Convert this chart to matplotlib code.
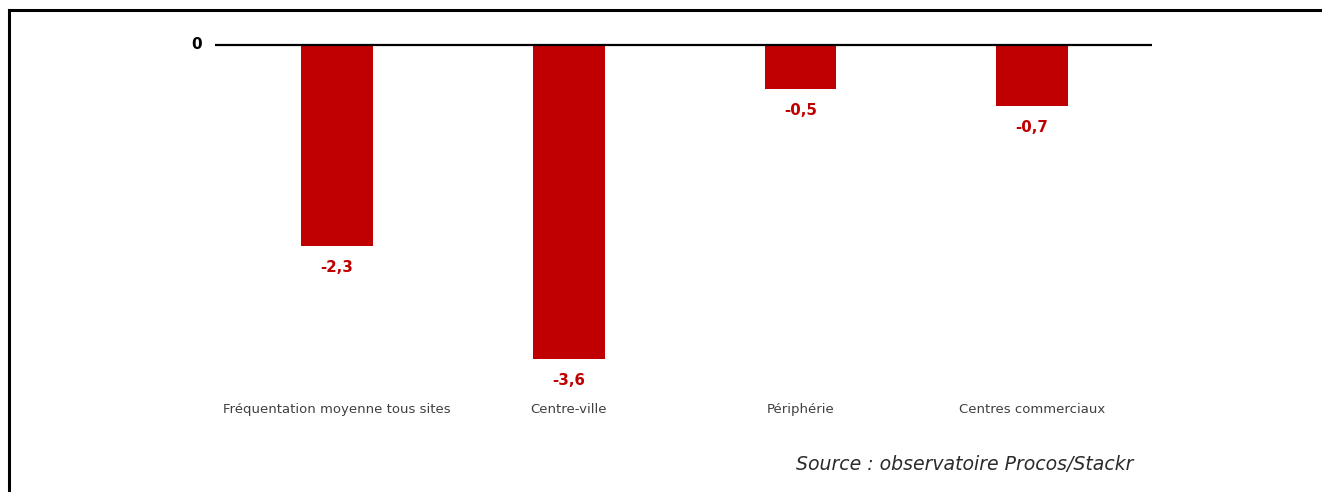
import matplotlib.pyplot as plt
from matplotlib.lines import Line2D

categories = ["Fréquentation moyenne tous sites", "Centre-ville", "Périphérie", "Centres commerciaux"]
values = [-2.3, -3.6, -0.5, -0.7]
value_labels = ["-2,3", "-3,6", "-0,5", "-0,7"]
source = "Source : observatoire Procos/Stackr"

RED = "#C00000"

fig = plt.figure(figsize=(13.22, 4.92), dpi=100)
ax = fig.add_axes([0, 0, 1, 1])
ax.set_xlim(-1.4545, 4.251)
ax.set_ylim(-5.126, 0.516)
ax.axis("off")

x = list(range(len(categories)))
bars = ax.bar(x, values, width=0.31, color=RED, zorder=2)

# zero baseline and its label
ax.hlines(0, -0.527, 3.517, color="black", lw=1.6, zorder=3)
ax.text(-0.605, 0, "0", ha="center", va="center", fontsize=11,
        fontweight="bold", family="DejaVu Sans")

for xi, v, lab in zip(x, values, value_labels):
    ax.annotate(lab, (xi, v), xytext=(0, -15.5), textcoords="offset points",
                ha="center", va="center", fontsize=10.8, fontweight="bold",
                color=RED, family="DejaVu Sans")

# category names under the bars
for xi, name in zip(x, categories):
    ax.text(xi, -4.185, name, ha="center", va="center", fontsize=9.5,
            color="#404040", family="DejaVu Sans")

fig.text(1133 / 1322, 1 - 465 / 492, source, ha="right", va="center",
         fontsize=13.6, style="italic", color="#2b2b2b", family="DejaVu Sans")

# frame lines on the top and left edges
fig.add_artist(Line2D([9 / 1322, 9 / 1322], [0, 1 - 10 / 492], color="black", lw=2.2))
fig.add_artist(Line2D([9 / 1322, 1], [1 - 10 / 492, 1 - 10 / 492], color="black", lw=2.2))

fig.savefig("out.png", dpi=100, facecolor="white")
